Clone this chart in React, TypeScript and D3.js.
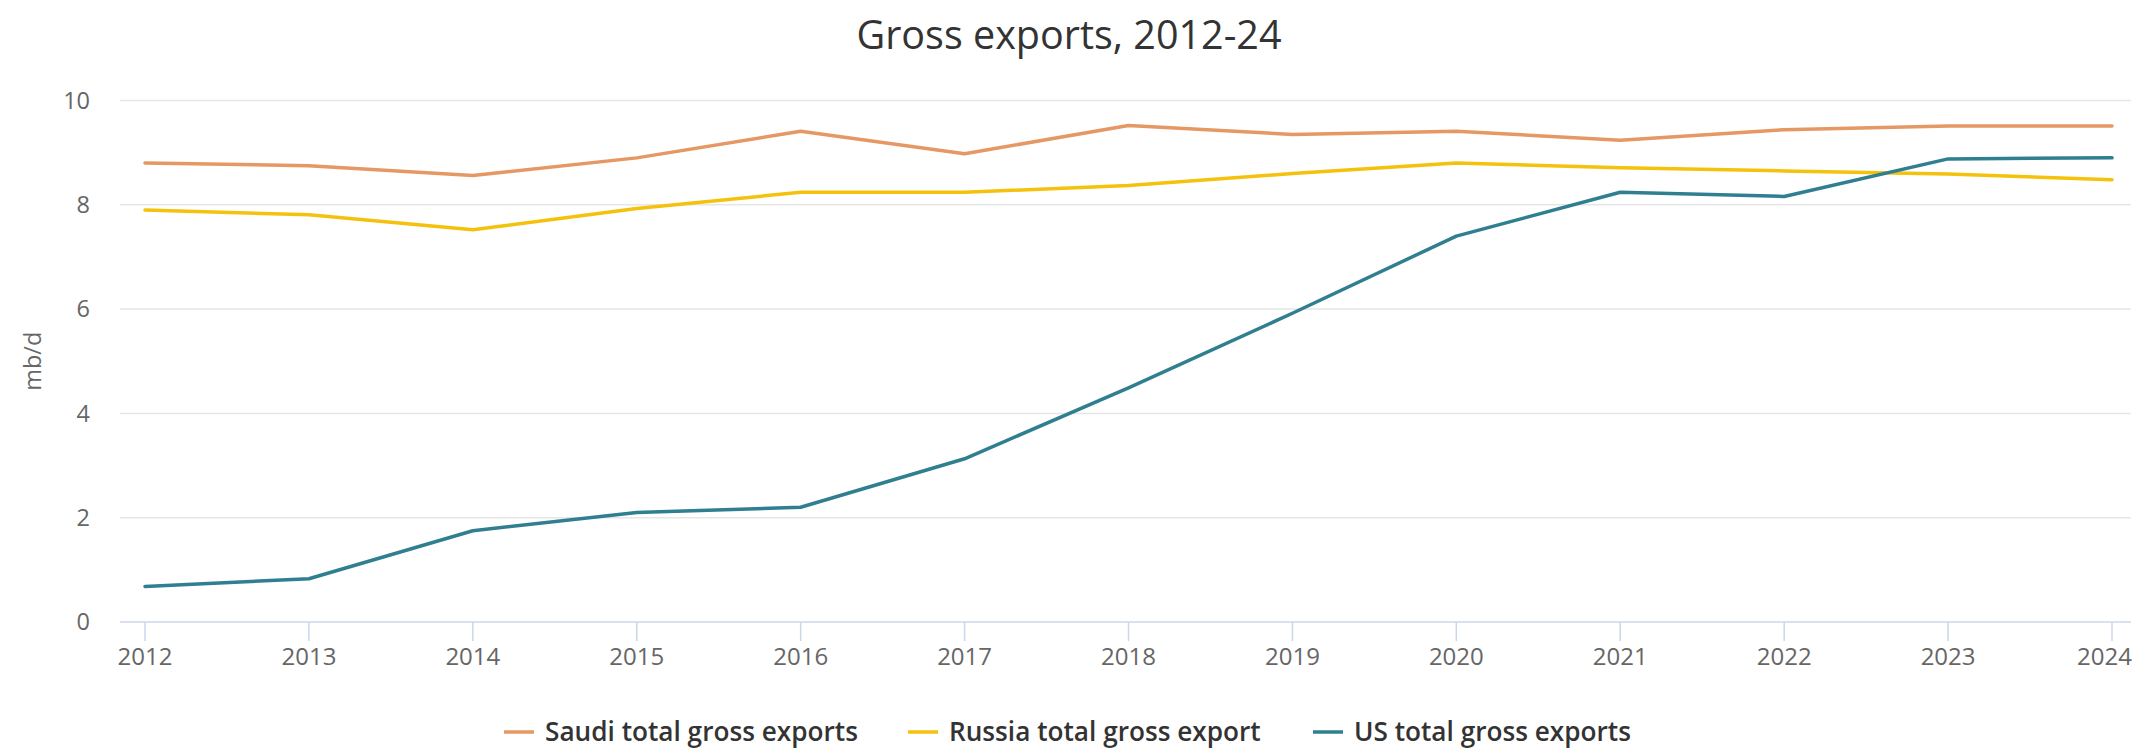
import React from "react";
import * as d3 from "d3";

const years = [2012, 2013, 2014, 2015, 2016, 2017, 2018, 2019, 2020, 2021, 2022, 2023, 2024];
const saudi = [8.8, 8.75, 8.56, 8.9, 9.41, 8.98, 9.52, 9.35, 9.41, 9.24, 9.44, 9.51, 9.51];
const russia = [7.9, 7.81, 7.52, 7.93, 8.24, 8.24, 8.37, 8.6, 8.8, 8.71, 8.65, 8.59, 8.48];
const us = [0.68, 0.83, 1.75, 2.1, 2.2, 3.13, 4.49, 5.92, 7.4, 8.24, 8.16, 8.88, 8.9];
const yTicks = [0, 2, 4, 6, 8, 10];

const seriesNames = ["Saudi total gross exports", "Russia total gross export", "US total gross exports"];
const seriesColors = ["#e59863", "#f4c20d", "#2f7f91"];
const seriesValues = [saudi, russia, us];

const W = 2135;
const H = 749;
const FONT = "'Open Sans', 'Noto Sans', sans-serif";

export default function App() {
  const x = d3.scaleLinear().domain([2012, 2024]).range([145, 2112]);
  const y = d3.scaleLinear().domain([0, 10]).range([622, 100.5]);
  const line = d3
    .line<number>()
    .x((_, i) => x(years[i]))
    .y((d) => y(d));

  const legendX = [504, 908, 1313];

  return (
    <svg
      width={W}
      height={H}
      style={{ position: "absolute", left: 0, top: 0, background: "#fff" }}
      fontFamily={FONT}
    >
      <rect width={W} height={H} fill="#fff" />
      <text x={1069} y={49} textAnchor="middle" fontSize={39.5} fill="#333">
        Gross exports, 2012-24
      </text>

      {yTicks.map((t) => (
        <g key={t}>
          {t !== 0 && (
            <line x1={120} x2={2131} y1={y(t)} y2={y(t)} stroke="#e6e6e6" strokeWidth={1.5} />
          )}
          <text x={90} y={y(t)} dy="0.35em" textAnchor="end" fontSize={23.5} fill="#666">
            {t}
          </text>
        </g>
      ))}

      <line x1={120} x2={2131} y1={y(0)} y2={y(0)} stroke="#ccd6eb" strokeWidth={1.5} />
      {years.map((yr, i) => {
        const last = i === years.length - 1;
        return (
          <g key={yr}>
            <line x1={x(yr)} x2={x(yr)} y1={y(0)} y2={y(0) + 19} stroke="#ccd6eb" strokeWidth={1.5} />
            <text
              x={last ? 2132 : x(yr)}
              y={665}
              textAnchor={last ? "end" : "middle"}
              fontSize={24}
              fill="#666"
            >
              {yr}
            </text>
          </g>
        );
      })}

      <text
        transform={`translate(33, ${(y(0) + y(10)) / 2}) rotate(-90)`}
        textAnchor="middle"
        dy="0.35em"
        fontSize={23.5}
        fill="#666"
      >
        mb/d
      </text>

      {seriesValues.map((vals, i) => (
        <path
          key={seriesNames[i]}
          d={line(vals) || ""}
          fill="none"
          stroke={seriesColors[i]}
          strokeWidth={3.5}
          strokeLinejoin="round"
          strokeLinecap="round"
        />
      ))}

      {seriesNames.map((name, i) => (
        <g key={name}>
          <line
            x1={legendX[i]}
            x2={legendX[i] + 30}
            y1={732}
            y2={732}
            stroke={seriesColors[i]}
            strokeWidth={3.5}
          />
          <text x={legendX[i] + 41} y={741} fontSize={26.2} fill="#333" fontWeight={600}>
            {name}
          </text>
        </g>
      ))}
    </svg>
  );
}
